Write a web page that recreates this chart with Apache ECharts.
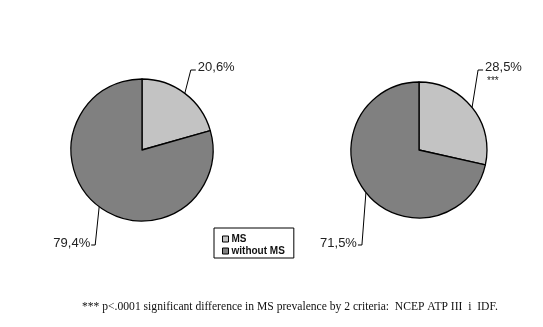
<!DOCTYPE html>
<html>
<head>
<meta charset="utf-8">
<script src="https://cdn.jsdelivr.net/npm/echarts@6/dist/echarts.min.js"></script>
<style>
  html, body { margin: 0; padding: 0; background: #fff; }
  #chart { width: 543px; height: 327px; }
</style>
</head>
<body>
<div id="chart"></div>
<script>
// Prevalence of the metabolic syndrome (%) by two diagnostic criteria
const categories = ['MS', 'without MS'];
const ncepValues = [20.6, 79.4];   // NCEP ATP III
const idfValues = [28.5, 71.5];    // IDF
const ncepMarks = ['', ''];
const idfMarks = ['***', ''];
const footnote = '*** p<.0001 significant difference in MS prevalence by 2 criteria:  NCEP ATP III  i  IDF.';

const sliceColors = ['#c3c3c3', '#808080'];
const TOP_ROW = 67;      // vertical middle of the upper value labels
const BOTTOM_ROW = 243;  // vertical middle of the lower value labels

function fmt(v) {
  return v.toFixed(1).replace('.', ',') + '%';
}

function buildData(values) {
  return categories.map(function (name, i) {
    return { name: name, value: values[i], itemStyle: { color: sliceColors[i] } };
  });
}

// Leader lines: from the slice edge nearly straight up / down, then a short tick to the label
function leaderLayout(p) {
  const a = p.labelLinePoints[0];
  if (p.dataIndex === 0) {
    const ex = a[0] + 6, ey = TOP_ROW + 3;
    return {
      x: ex + 7, y: TOP_ROW - 7, align: 'left', verticalAlign: 'top',
      labelLinePoints: [a, [ex, ey], [ex + 5, ey]]
    };
  }
  const ex = a[0] - 4, ey = BOTTOM_ROW + 2;
  return {
    x: ex - 5, y: BOTTOM_ROW - 7, align: 'right', verticalAlign: 'top',
    labelLinePoints: [a, [ex, ey], [ex - 4, ey]]
  };
}

function pieSeries(values, marks, center, radius) {
  return {
    type: 'pie',
    center: center,
    radius: radius,
    startAngle: 90,
    clockwise: true,
    avoidLabelOverlap: false,
    data: buildData(values),
    itemStyle: { borderColor: '#000', borderWidth: 1.3 },
    emphasis: { disabled: true },
    label: {
      show: true,
      position: 'outside',
      formatter: function (p) {
        const m = marks[p.dataIndex];
        return '{v|' + fmt(p.value) + '}' + (m ? '\n{s|' + m + '}' : '');
      },
      rich: {
        v: { fontFamily: 'Liberation Sans', fontSize: 13, color: '#222', lineHeight: 14 },
        s: { fontFamily: 'Liberation Sans', fontSize: 10, color: '#222', lineHeight: 14, padding: [0, 0, 0, 2] }
      }
    },
    labelLine: {
      show: true,
      length: 12,
      length2: 5,
      lineStyle: { color: '#000', width: 1 }
    },
    labelLayout: leaderLayout
  };
}

const chart = echarts.init(document.getElementById('chart'), null, { renderer: 'canvas' });
chart.setOption({
  animation: false,
  backgroundColor: '#fff',
  title: {
    text: footnote,
    left: 82,
    top: 301,
    padding: 0,
    textStyle: {
      fontFamily: 'Liberation Serif',
      fontSize: 11.6,
      fontWeight: 'normal',
      color: '#111'
    }
  },
  legend: {
    data: categories,
    orient: 'vertical',
    left: 214,
    top: 228,
    padding: [5, 9, 1, 8],
    itemGap: 0,
    itemWidth: 6,
    itemHeight: 6,
    icon: 'rect',
    borderColor: '#000',
    borderWidth: 1,
    backgroundColor: '#fff',
    selectedMode: false,
    itemStyle: { borderColor: '#000', borderWidth: 1 },
    textStyle: {
      fontFamily: 'Liberation Sans',
      fontSize: 10,
      fontWeight: 'bold',
      color: '#111',
      lineHeight: 12,
      padding: [0, 0, 0, -2]
    }
  },
  series: [
    pieSeries(ncepValues, ncepMarks, [142, 150], 71),
    pieSeries(idfValues, idfMarks, [419, 150], 68)
  ]
});
</script>
</body>
</html>
